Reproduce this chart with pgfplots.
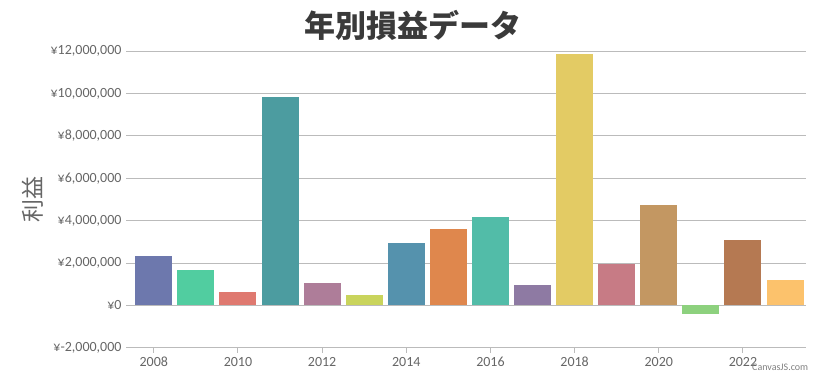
\documentclass[border=0pt]{standalone}
\usepackage{pgfplots}
\pgfplotsset{compat=1.18}
\usepackage{fontspec}
\setmainfont{Carlito}
\newfontfamily\cjk{Noto Sans CJK JP}
\definecolor{c1}{HTML}{6D78AD}
\definecolor{c2}{HTML}{51CDA0}
\definecolor{c3}{HTML}{DF7970}
\definecolor{c4}{HTML}{4C9CA0}
\definecolor{c5}{HTML}{AE7D99}
\definecolor{c6}{HTML}{C9D45C}
\definecolor{c7}{HTML}{5592AD}
\definecolor{c8}{HTML}{DF874D}
\definecolor{c9}{HTML}{52BCA8}
\definecolor{c10}{HTML}{8E7AA3}
\definecolor{c11}{HTML}{E3CB64}
\definecolor{c12}{HTML}{C77B85}
\definecolor{c13}{HTML}{C39762}
\definecolor{c14}{HTML}{8DD17E}
\definecolor{c15}{HTML}{B57952}
\definecolor{c16}{HTML}{FCC26C}
\definecolor{gridgray}{HTML}{BBBBBB}
\definecolor{labelgray}{HTML}{666666}
\definecolor{titlegray}{HTML}{3A3A3A}
\begin{document}
\begin{tikzpicture}[x=1pt,y=1pt]
\useasboundingbox (0,0) rectangle (820,372);
\begin{axis}[
  at={(126pt,24.3pt)}, anchor=south west,
  scale only axis, width=679.7pt, height=296.4pt,
  xmin=2007.34, xmax=2023.49,
  ymin=-2000000, ymax=12000000,
  ybar, bar width=37pt,
  every axis plot/.append style={bar shift=0pt, draw=none},
  axis line style={draw=none},
  scaled y ticks=false,
  ytick={-2000000,0,2000000,4000000,6000000,8000000,10000000,12000000},
  yticklabels={¥-2{,}000{,}000,¥0,¥2{,}000{,}000,¥4{,}000{,}000,¥6{,}000{,}000,¥8{,}000{,}000,¥10{,}000{,}000,¥12{,}000{,}000},
  xtick={2008,2010,2012,2014,2016,2018,2020,2022},
  xticklabels={2008,2010,2012,2014,2016,2018,2020,2022},
  xtick pos=bottom,
  tick align=outside,
  major tick length=5pt,
  xtick style={draw=gridgray, line width=1pt},
  ytick style={draw=none},
  ymajorgrids,
  grid style={draw=gridgray, line width=1pt},
  tick label style={font=\fontsize{14}{16}\selectfont, text=labelgray},
  yticklabel style={xshift=4pt},
  xticklabel style={yshift=-1pt},
]
\addplot[fill=c1]  coordinates {(2008,2350000)};
\addplot[fill=c2]  coordinates {(2009,1690000)};
\addplot[fill=c3]  coordinates {(2010,630000)};
\addplot[fill=c4]  coordinates {(2011,9820000)};
\addplot[fill=c5]  coordinates {(2012,1040000)};
\addplot[fill=c6]  coordinates {(2013,470000)};
\addplot[fill=c7]  coordinates {(2014,2960000)};
\addplot[fill=c8]  coordinates {(2015,3600000)};
\addplot[fill=c9]  coordinates {(2016,4160000)};
\addplot[fill=c10] coordinates {(2017,950000)};
\addplot[fill=c11] coordinates {(2018,11870000)};
\addplot[fill=c12] coordinates {(2019,1970000)};
\addplot[fill=c13] coordinates {(2020,4720000)};
\addplot[fill=c14] coordinates {(2021,-390000)};
\addplot[fill=c15] coordinates {(2022,3090000)};
\addplot[fill=c16] coordinates {(2023,1210000)};
\end{axis}
\node[font=\cjk\bfseries\fontsize{31}{36}\selectfont, text=titlegray] at (413,346.5) {年別損益データ};
\node[font=\cjk\fontsize{23}{26}\selectfont, text=labelgray, rotate=90] at (33,172) {利益};
\node[anchor=south west, font=\fontsize{10}{12}\selectfont, text=gray, inner sep=0pt] at (752,1) {CanvasJS.com};
\end{tikzpicture}
\end{document}
